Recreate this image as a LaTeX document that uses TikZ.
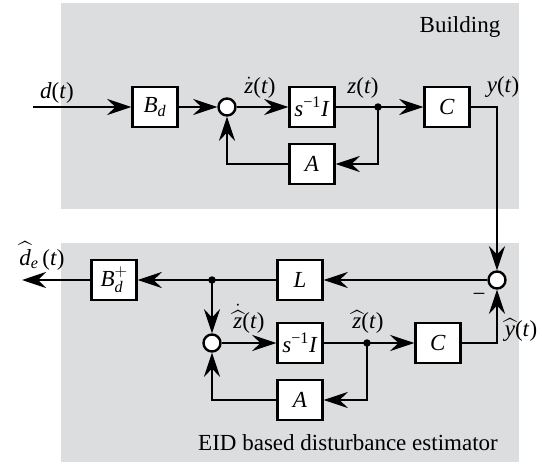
\documentclass[tikz,border=0pt]{standalone}
\usepackage{amsmath}
\usepackage{fontspec}
\setmainfont{Liberation Serif}
\usetikzlibrary{arrows.meta}
\definecolor{bg}{RGB}{220,221,223}
\newcommand\iv[1]{\textit{#1}}
\newcommand\mi[1]{\text{\itshape #1}}
\begin{document}
\begin{tikzpicture}[x=1pt,y=-1pt,
  blk/.style={draw, line width=2.4pt, fill=white, minimum width=45pt, minimum height=40pt, inner sep=0pt, font=\fontsize{23}{26}\selectfont},
  sumc/.style={circle, draw, line width=2.4pt, fill=white, minimum size=17pt, inner sep=0pt},
  dotn/.style={circle, fill=black, minimum size=7.5pt, inner sep=0pt},
  sig/.style={line width=2.8pt, -{Stealth[length=24pt,width=16pt,inset=8pt]}},
  ln/.style={line width=2.8pt},
  lbl/.style={font=\fontsize{23}{26}\selectfont, inner sep=0pt}]
\useasboundingbox (0,0) rectangle (542,464);
\fill[bg] (61,3) rectangle (519,209);
\fill[bg] (61,243) rectangle (519,462);
% top
\coordinate (din) at (33,107);
\node[blk] (Bd) at (155,107) {\iv{B}$_{\mi{d}}$};
\node[sumc] (s1) at (227,107) {};
\node[blk] (I1) at (312,107) {\iv{s}$^{\text{−1}}$\iv{I}};
\node[blk] (C1) at (447,107) {\iv{C}};
\node[blk] (A1) at (312,164) {\iv{A}};
% bottom
\node[sumc] (s2) at (497,280) {};
\node[blk] (L) at (300,280) {\iv{L}};
\node[blk] (Bp) at (114,280) {\iv{B}$^{+}_{\mi{d}}$};
\coordinate (dout) at (22,280);
\node[sumc] (s3) at (212,343) {};
\node[blk] (I2) at (300,343) {\iv{s}$^{\text{−1}}$\iv{I}};
\node[blk] (C2) at (438,343) {\iv{C}};
\node[blk] (A2) at (300,400) {\iv{A}};
\coordinate (p1) at (378,107);
\coordinate (p2) at (212,280);
\coordinate (p3) at (367,343);
% connectors top
\draw[sig] (din) -- (Bd);
\draw[sig] (Bd) -- (s1);
\draw[sig] (s1) -- (I1);
\draw[ln] (I1) -- (p1);
\draw[sig] (p1) -- (C1);
\draw[sig] (p1) |- (A1);
\draw[sig] (A1) -| (s1);
\draw[sig] (C1) -| (s2);
% connectors bottom
\draw[sig] (s2) -- (L);
\draw[ln] (L) -- (p2);
\draw[sig] (p2) -- (Bp);
\draw[sig] (Bp) -- (dout);
\draw[sig] (p2) -- (s3);
\draw[sig] (s3) -- (I2);
\draw[ln] (I2) -- (p3);
\draw[sig] (p3) -- (C2);
\draw[sig] (p3) |- (A2);
\draw[sig] (A2) -| (s3);
\draw[sig] (C2) -| (s2);
\node[dotn] (d1) at (p1) {};
\node[dotn] (d2) at (p2) {};
\node[dotn] (d3) at (p3) {};
% labels
\node[lbl, anchor=base] (ld) at (57,98) {\iv{d}(\iv{t})};
\node[lbl, anchor=base] (lzd) at (260,93) {$\dot{\mi{z}}$(\iv{t})};
\node[lbl, anchor=base] (lz) at (363,93) {\iv{z}(\iv{t})};
\node[lbl, anchor=base] (ly) at (503,92) {\iv{y}(\iv{t})};
\node[lbl, anchor=base] (lde) at (42,265) {$\widehat{\mi{d}}_{\mi{e}}$\,(\iv{t})};
\node[lbl, anchor=base] (lzh) at (249,328) {$\dot{\widehat{\mi{z}}}$(\iv{t})};
\node[lbl, anchor=base] (lzh2) at (368,328) {$\widehat{\mi{z}}$(\iv{t})};
\node[lbl, anchor=base] (lyh) at (521,336) {$\widehat{\mi{y}}$(\iv{t})};
\node[lbl] (minus) at (479,297) {−};
\node[lbl, anchor=base] (tb) at (460,32) {Building};
\node[lbl, anchor=base] (te) at (348,450) {EID based disturbance estimator};
\end{tikzpicture}
\end{document}
